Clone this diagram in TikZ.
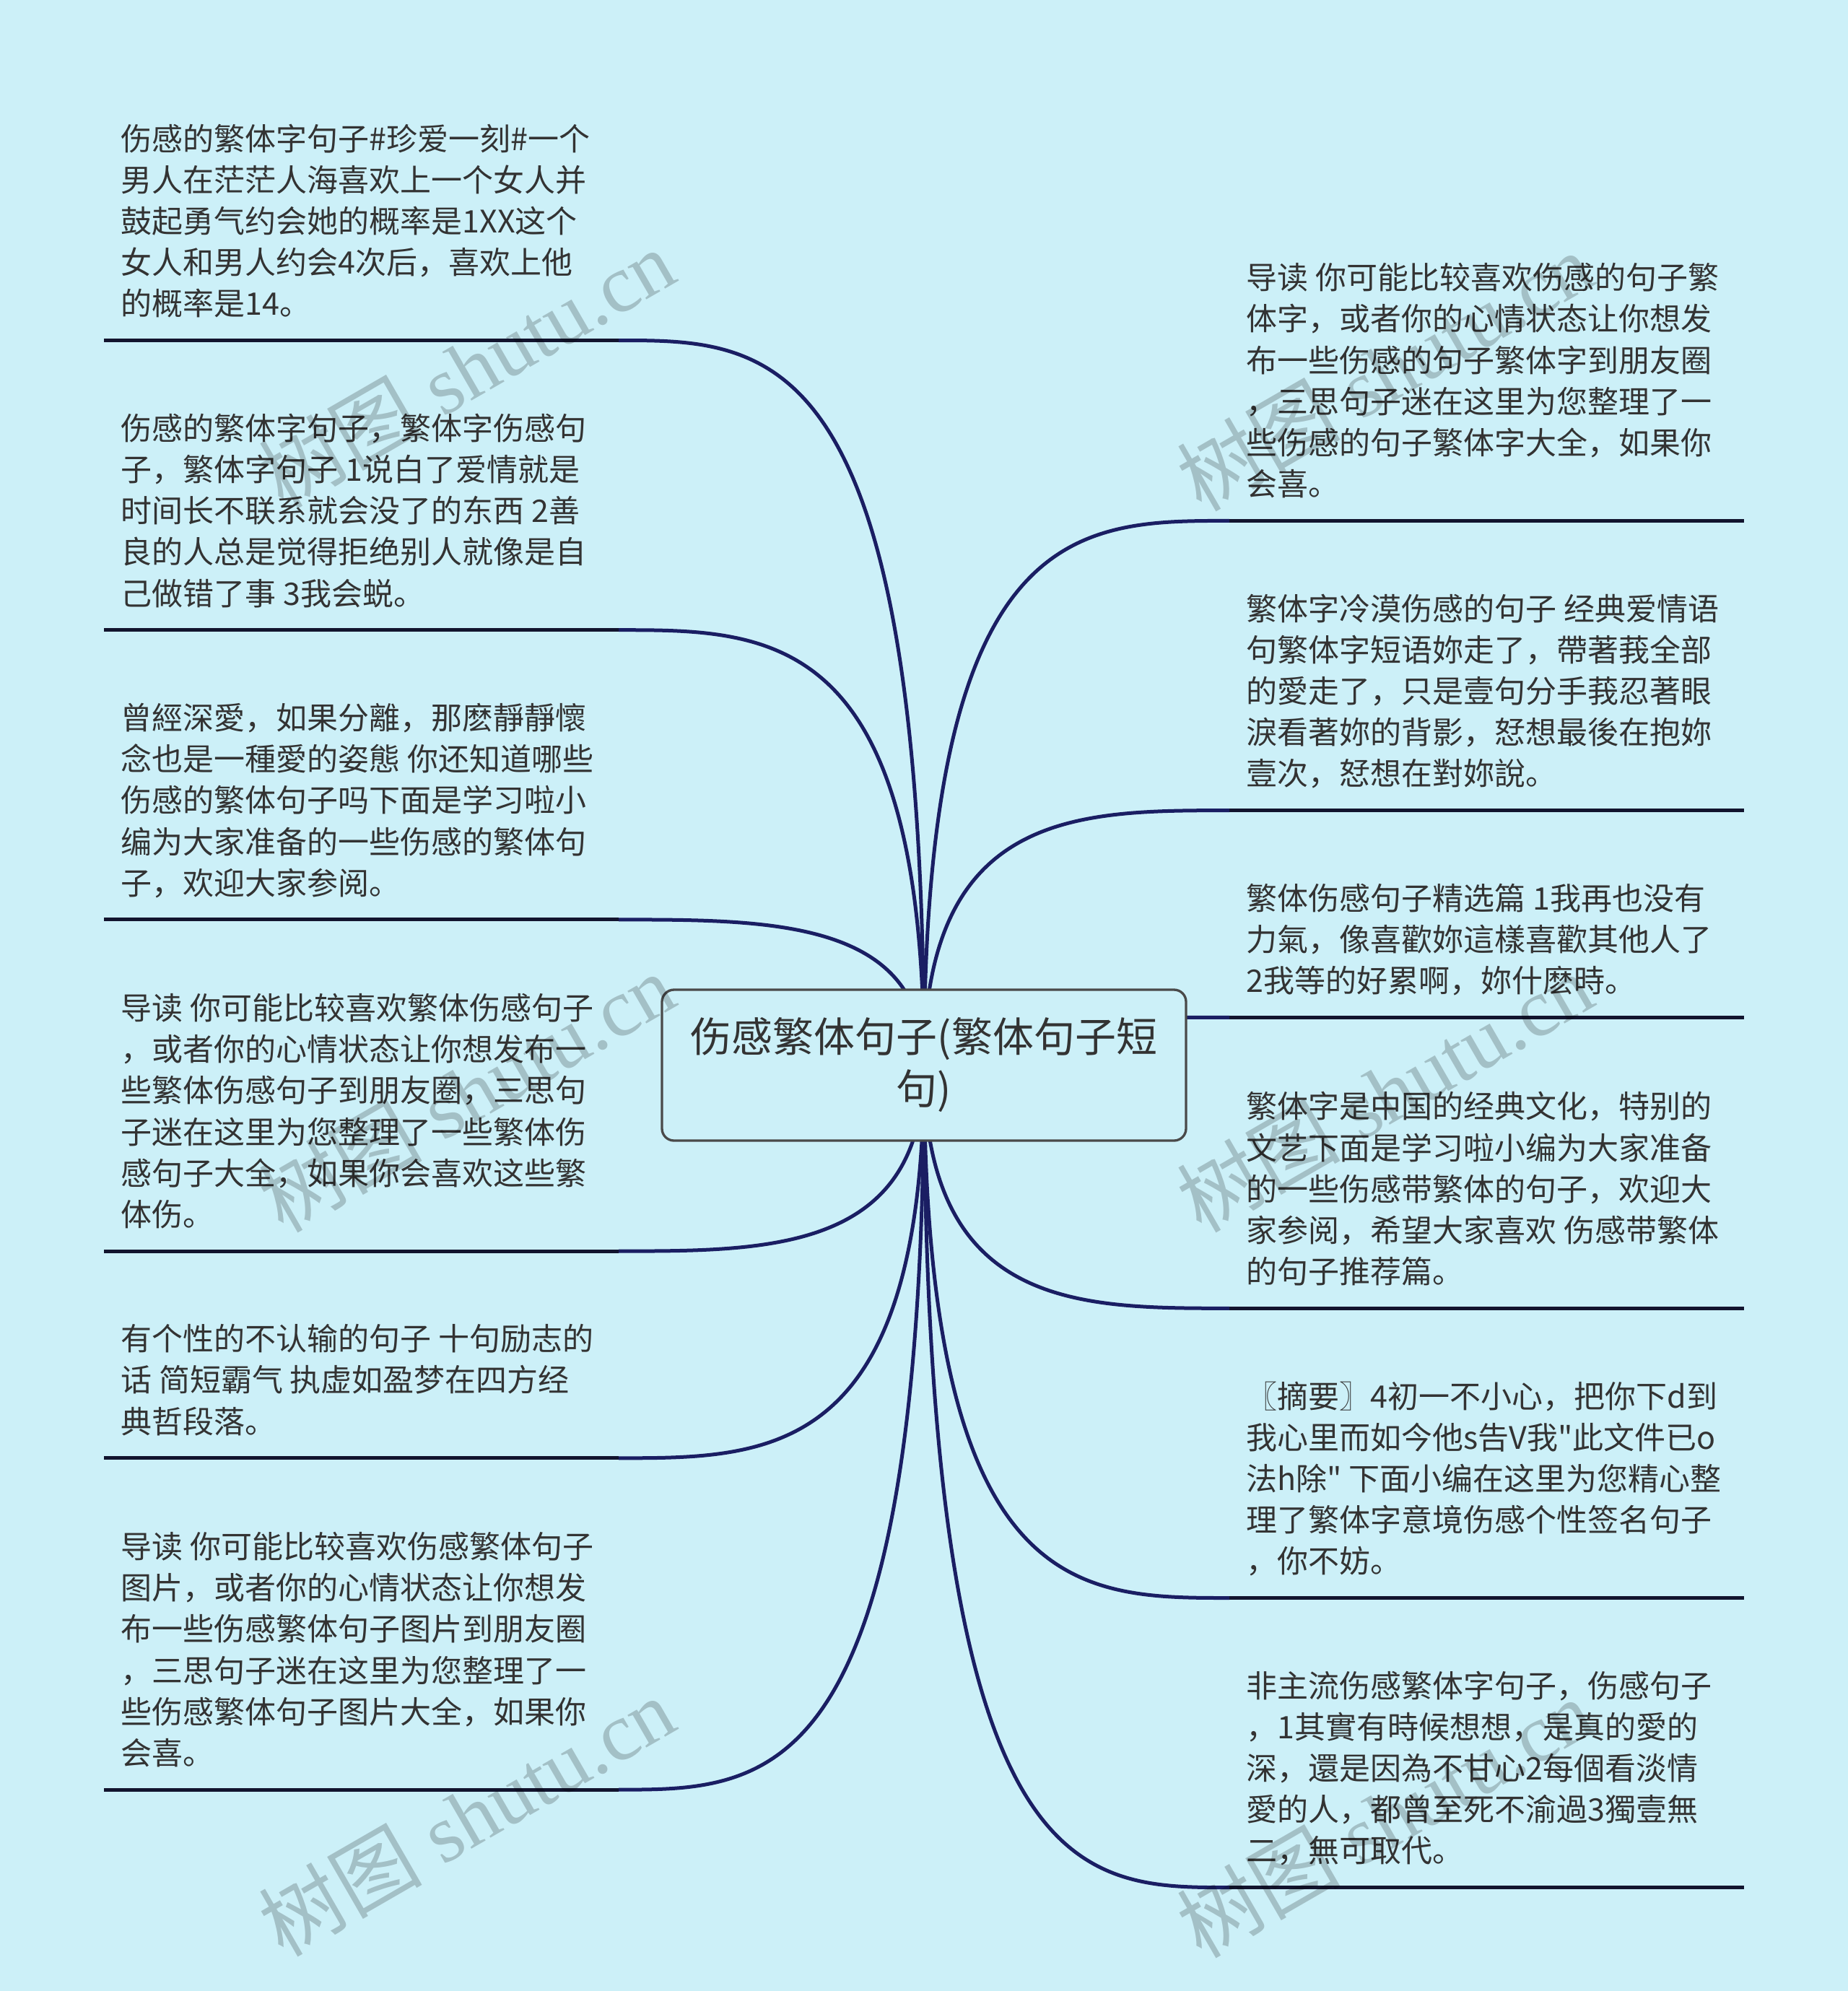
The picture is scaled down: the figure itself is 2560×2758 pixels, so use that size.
\documentclass[tikz,border=0pt]{standalone}
\usepackage{fontspec}
\setmainfont{Noto Sans CJK SC}[Ligatures=TeXOff]
\newfontfamily\wmserif{Liberation Serif}
\newfontfamily\wmcjk{Noto Sans CJK SC}
\usetikzlibrary{calc}
\definecolor{bgc}{HTML}{CCF0F8}
\definecolor{conncol}{HTML}{1A1E63}
\definecolor{ulcol}{HTML}{12142E}
\definecolor{txt}{HTML}{333333}
\definecolor{cborder}{HTML}{4A4A4A}
\pgfdeclarelayer{bg}
\pgfsetlayers{bg,main}
\begin{document}
\begin{tikzpicture}[x=0.3pt,y=-0.3pt,
 leaf/.style={anchor=south west,inner sep=0pt,align=left,text depth=0pt,text=txt,font=\fontsize{12.9pt}{17.16pt}\selectfont},
 rootbox/.style={draw=cborder,line width=1pt,fill=bgc,rounded corners=5pt,minimum width=217.8pt,minimum height=62.7pt,align=center,text=txt,font=\fontsize{17.1pt}{21.6pt}\selectfont,inner sep=0pt},
 link/.style={draw=conncol,line width=1.5pt},
 ul/.style={draw=ulcol,line width=1.5pt},
 wm/.style={rotate=30,text=black,opacity=0.2,font=\fontsize{34pt}{38pt}\wmserif}]
\useasboundingbox (0,0) rectangle (2560,2758);
\begin{pgfonlayer}{bg}
\fill[bgc] (0,0) rectangle (2560,2758);
\end{pgfonlayer}

\node[rootbox] (c) at (1280,1475.5) {伤感繁体句子(繁体句子短\\句)};

% left endpoints
\foreach \n/\y in {L1/471.5,L2/872.7,L3/1273.9,L4/1733.1,L5/2019.8,L6/2479.1}{
  \coordinate (\n) at (857,\y);
  \coordinate (\n a) at (144,\y);
}
% right endpoints
\foreach \n/\y in {R1/721.4,R2/1122.6,R3/1409.4,R4/1812.3,R5/2213.5,R6/2614.6}{
  \coordinate (\n) at (1703,\y);
  \coordinate (\n a) at (2416,\y);
}

\begin{pgfonlayer}{bg}
\foreach \e in {L1,L2,L3,L4,L5,L6,R1,R2,R3,R4,R5,R6}{
  \draw[link] (c.center) .. controls ($(c.center|-\e)$) and ($(c.center|-\e)!0.5!(\e)$) .. (\e);
  \draw[ul] (\e) -- (\e a);
}
\end{pgfonlayer}

% left texts
\node[leaf] (t1) at (167,437.5) {伤感的繁体字句子\#珍爱一刻\#一个\\男人在茫茫人海喜欢上一个女人并\\鼓起勇气约会她的概率是1XX这个\\女人和男人约会4次后，喜欢上他\\的概率是14。};
\node[leaf] (t2) at (167,838.7) {伤感的繁体字句子，繁体字伤感句\\子，繁体字句子 1说白了爱情就是\\时间长不联系就会没了的东西 2善\\良的人总是觉得拒绝别人就像是自\\己做错了事 3我会蜕。};
\node[leaf] (t3) at (167,1239.9) {曾經深愛，如果分離，那麽靜靜懷\\念也是一種愛的姿態 你还知道哪些\\伤感的繁体句子吗下面是学习啦小\\编为大家准备的一些伤感的繁体句\\子，欢迎大家参阅。};
\node[leaf] (t4) at (167,1699.1) {导读 你可能比较喜欢繁体伤感句子\\，或者你的心情状态让你想发布一\\些繁体伤感句子到朋友圈，三思句\\子迷在这里为您整理了一些繁体伤\\感句子大全，如果你会喜欢这些繁\\体伤。};
\node[leaf] (t5) at (167,1985.8) {有个性的不认输的句子 十句励志的\\话 简短霸气 执虚如盈梦在四方经\\典哲段落。};
\node[leaf] (t6) at (167,2445.1) {导读 你可能比较喜欢伤感繁体句子\\图片，或者你的心情状态让你想发\\布一些伤感繁体句子图片到朋友圈\\，三思句子迷在这里为您整理了一\\些伤感繁体句子图片大全，如果你\\会喜。};

% right texts
\node[leaf] (r1) at (1726,687.4) {导读 你可能比较喜欢伤感的句子繁\\体字，或者你的心情状态让你想发\\布一些伤感的句子繁体字到朋友圈\\，三思句子迷在这里为您整理了一\\些伤感的句子繁体字大全，如果你\\会喜。};
\node[leaf] (r2) at (1726,1088.6) {繁体字冷漠伤感的句子 经典爱情语\\句繁体字短语妳走了，帶著莪全部\\的愛走了，只是壹句分手莪忍著眼\\淚看著妳的背影，恏想最後在抱妳\\壹次，恏想在對妳說。};
\node[leaf] (r3) at (1726,1375.4) {繁体伤感句子精选篇 1我再也没有\\力氣，像喜歡妳這樣喜歡其他人了\\2我等的好累啊，妳什麽時。};
\node[leaf] (r4) at (1726,1778.3) {繁体字是中国的经典文化，特别的\\文艺下面是学习啦小编为大家准备\\的一些伤感带繁体的句子，欢迎大\\家参阅，希望大家喜欢 伤感带繁体\\的句子推荐篇。};
\node[leaf] (r5) at (1726,2179.5) {〖摘要〗4初一不小心，把你下d到\\我心里而如今他s告V我"此文件已o\\法h除" 下面小编在这里为您精心整\\理了繁体字意境伤感个性签名句子\\，你不妨。};
\node[leaf] (r6) at (1726,2580.6) {非主流伤感繁体字句子，伤感句子\\，1其實有時候想想，是真的愛的\\深，還是因為不甘心2每個看淡情\\愛的人，都曾至死不渝過3獨壹無\\二，無可取代。};

% watermarks
\foreach \n/\x/\y in {w1/646/510,w2/646/1513,w3/646/2516,w4/1918/514,w5/1918/1513,w6/1918/2518}{
  \node[wm] (\n) at (\x,\y) {{\wmcjk 树图} shutu.cn};
}
\end{tikzpicture}
\end{document}
